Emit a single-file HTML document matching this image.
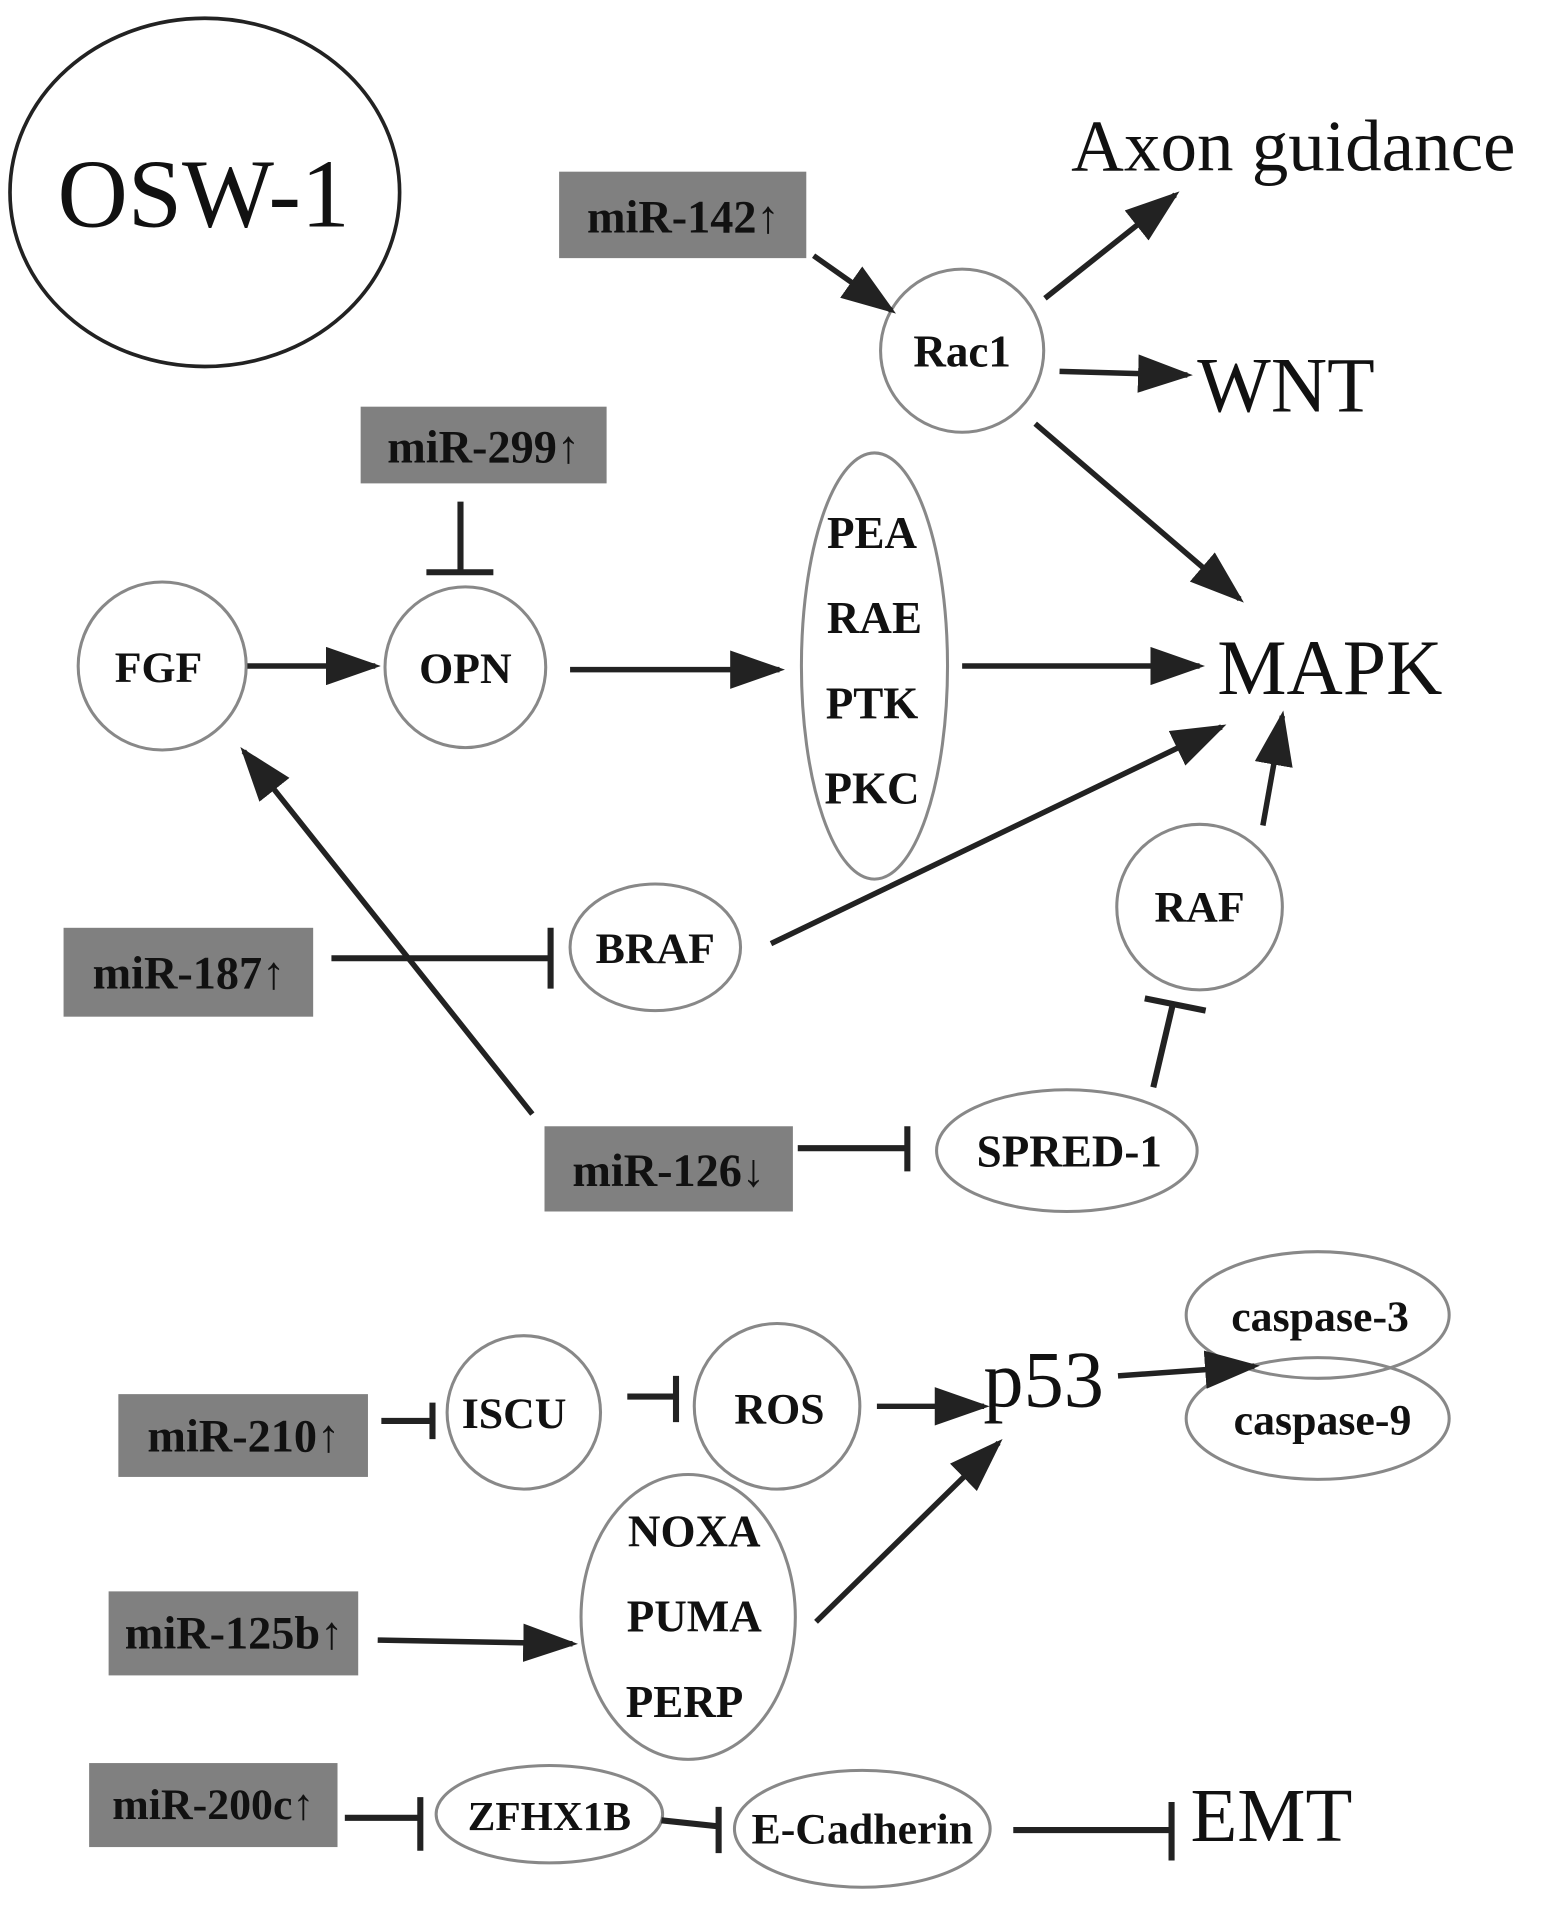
<!DOCTYPE html>
<html><head><meta charset="utf-8"><style>html,body{margin:0;padding:0;background:#fff}svg{display:block}</style></head>
<body>
<svg xmlns="http://www.w3.org/2000/svg" width="1559" height="1925" viewBox="0 0 1280 1581" font-family="Liberation Serif, serif">
<defs>
<marker id="a" markerWidth="10" markerHeight="7" refX="9" refY="3.5" orient="auto" markerUnits="strokeWidth"><path d="M0,0 L10,3.5 L0,7 z" fill="#222"/></marker>
</defs>
<rect width="1280" height="1581" fill="#fff"/>
<g fill="none" stroke="#888" stroke-width="2.5">
<ellipse cx="168" cy="158" rx="160" ry="143" stroke="#222" stroke-width="3"/>
<circle cx="790" cy="288" r="67"/>
<circle cx="382" cy="548" r="66"/>
<circle cx="133" cy="547" r="69"/>
<ellipse cx="718" cy="547" rx="60" ry="175"/>
<circle cx="985" cy="745" r="68"/>
<ellipse cx="538" cy="778" rx="70" ry="52"/>
<ellipse cx="876" cy="945" rx="107" ry="50"/>
<ellipse cx="1082" cy="1080" rx="108" ry="52"/>
<ellipse cx="1082" cy="1165" rx="108" ry="50"/>
<circle cx="638" cy="1155" r="68"/>
<circle cx="430" cy="1160" r="63"/>
<ellipse cx="565" cy="1328" rx="88" ry="117"/>
<ellipse cx="451" cy="1490" rx="93" ry="40"/>
<ellipse cx="708" cy="1502" rx="105" ry="48"/>
</g>
<g fill="#808080">
<rect x="459" y="141" width="203" height="71"/>
<rect x="296" y="334" width="202" height="63"/>
<rect x="52" y="762" width="205" height="73"/>
<rect x="447" y="925" width="204" height="70"/>
<rect x="97" y="1145" width="205" height="68"/>
<rect x="89" y="1307" width="205" height="69"/>
<rect x="73" y="1448" width="204" height="69"/>
</g>
<g stroke="#222" stroke-width="4.5" fill="none" marker-end="url(#a)">
<line x1="668" y1="210" x2="732" y2="255"/>
<line x1="858" y1="245" x2="965" y2="160"/>
<line x1="870" y1="305" x2="975" y2="308"/>
<line x1="850" y1="348" x2="1018" y2="492"/>
<line x1="203" y1="547" x2="308" y2="547"/>
<line x1="468" y1="550" x2="640" y2="550"/>
<line x1="790" y1="547" x2="985" y2="547"/>
<line x1="633" y1="775" x2="1003" y2="597"/>
<line x1="1037" y1="678" x2="1053" y2="588"/>
<line x1="437" y1="915" x2="200" y2="617"/>
<line x1="918" y1="1130" x2="1030" y2="1122"/>
<line x1="720" y1="1155" x2="808" y2="1155"/>
<line x1="670" y1="1332" x2="820" y2="1185"/>
<line x1="310" y1="1347" x2="470" y2="1350"/>
</g>
<g stroke="#222" stroke-width="5" fill="none">
<line x1="378" y1="412" x2="378" y2="470"/><line x1="350" y1="470" x2="405" y2="470"/>
<line x1="272" y1="787" x2="452" y2="787"/><line x1="452" y1="762" x2="452" y2="812"/>
<line x1="655" y1="943" x2="745" y2="943"/><line x1="745" y1="925" x2="745" y2="962"/>
<line x1="947" y1="893" x2="963" y2="825"/><line x1="940" y1="820" x2="990" y2="830"/>
<line x1="313" y1="1167" x2="355" y2="1167"/><line x1="355" y1="1152" x2="355" y2="1182"/>
<line x1="515" y1="1147" x2="555" y2="1147"/><line x1="555" y1="1130" x2="555" y2="1168"/>
<line x1="283" y1="1493" x2="345" y2="1493"/><line x1="345" y1="1476" x2="345" y2="1520"/>
<line x1="543" y1="1495" x2="590" y2="1500"/><line x1="590" y1="1484" x2="590" y2="1522"/>
<line x1="832" y1="1503" x2="962" y2="1503"/><line x1="962" y1="1480" x2="962" y2="1528"/>
</g>
<g fill="#111" text-anchor="middle">
<text x="167" y="186" font-size="80">OSW-1</text>
<text x="1062" y="140" font-size="60">Axon guidance</text>
<text x="561" y="191" font-size="38" font-weight="bold">miR-142↑</text>
<text x="790" y="301" font-size="37" font-weight="bold">Rac1</text>
<text x="1056" y="338" font-size="64">WNT</text>
<text x="397" y="380" font-size="38" font-weight="bold">miR-299↑</text>
<text x="130" y="560" font-size="36" font-weight="bold">FGF</text>
<text x="382" y="561" font-size="36" font-weight="bold">OPN</text>
<text x="716" y="450" font-size="37" font-weight="bold">PEA</text>
<text x="718" y="520" font-size="37" font-weight="bold">RAE</text>
<text x="716" y="590" font-size="37" font-weight="bold">PTK</text>
<text x="716" y="660" font-size="37" font-weight="bold">PKC</text>
<text x="1092" y="570" font-size="64">MAPK</text>
<text x="985" y="757" font-size="36" font-weight="bold">RAF</text>
<text x="538" y="791" font-size="36" font-weight="bold">BRAF</text>
<text x="155" y="812" font-size="38" font-weight="bold">miR-187↑</text>
<text x="549" y="974" font-size="38" font-weight="bold">miR-126↓</text>
<text x="878" y="958" font-size="37" font-weight="bold">SPRED-1</text>
<text x="1084" y="1093" font-size="36" font-weight="bold">caspase-3</text>
<text x="1086" y="1178" font-size="36" font-weight="bold">caspase-9</text>
<text x="857" y="1155" font-size="66">p53</text>
<text x="640" y="1169" font-size="36" font-weight="bold">ROS</text>
<text x="422" y="1173" font-size="36" font-weight="bold">ISCU</text>
<text x="200" y="1192" font-size="38" font-weight="bold">miR-210↑</text>
<text x="570" y="1270" font-size="37" font-weight="bold">NOXA</text>
<text x="570" y="1340" font-size="37" font-weight="bold">PUMA</text>
<text x="562" y="1410" font-size="37" font-weight="bold">PERP</text>
<text x="192" y="1354" font-size="38" font-weight="bold">miR-125b↑</text>
<text x="175" y="1494" font-size="36" font-weight="bold">miR-200c↑</text>
<text x="451" y="1503" font-size="34" font-weight="bold">ZFHX1B</text>
<text x="708" y="1514" font-size="36" font-weight="bold">E-Cadherin</text>
<text x="1044" y="1512" font-size="63">EMT</text>
</g>
</svg>
</body></html>
